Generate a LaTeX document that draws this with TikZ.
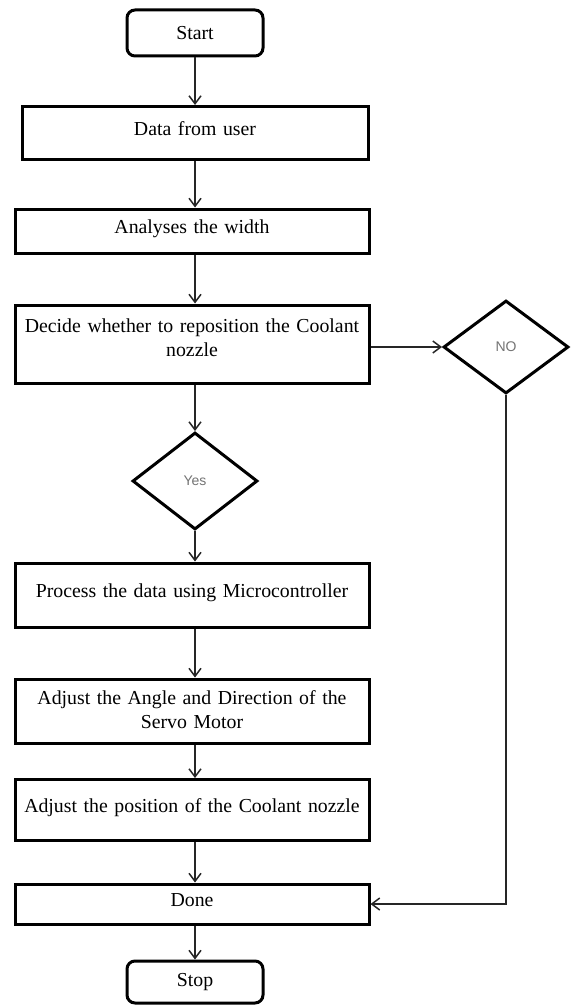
\documentclass[tikz,border=0pt]{standalone}
\usepackage{fontspec}
\setmainfont{Liberation Serif}
\newfontfamily\choicefont{Liberation Sans}
\usepackage{tikz}
\usetikzlibrary{shapes.geometric, arrows.meta, positioning}

\tikzset{
    procbox/.style={draw, line width=1.5pt, minimum width=177pt, text width=176pt, inner xsep=0pt, align=center,
        font=\fontsize{9.9}{12.2}\selectfont, text height=7pt, text depth=5pt},
    twoline/.style={text depth=#1},
    termbox/.style={draw, line width=1.5pt, rounded corners=4pt, minimum width=68pt,
        font=\fontsize{9.9}{12.2}\selectfont},
    choice/.style={diamond, draw, line width=1.5pt, inner sep=0pt, minimum width=62.5pt,
        text=black!55, font=\choicefont\fontsize{7}{8}\selectfont},
    flow/.style={-{Straight Barb[length=4pt, width=6pt]}, line width=0.75pt, draw=black!85}
}

\begin{document}
\begin{tikzpicture}[x=0.5pt, y=-0.5pt]
    \useasboundingbox (0,0) rectangle (576,1006);

    % --- main column ---
    \node[termbox, minimum height=23pt] (start) at (195,33) {Start};
    \node[procbox, minimum width=173pt, text width=172pt, minimum height=26.5pt] (data) at (195,133) {Data from user};
    \node[procbox, minimum height=22pt] (analyse) at (192,231) {Analyses the width};
    \node[procbox, twoline=19pt, minimum height=39pt] (decide) at (192,344) {Decide whether to reposition the Coolant\\ nozzle};

    % decisions
    \node[choice, minimum height=48.5pt] (yes) at (195,481) {Yes};
    \node[choice, minimum height=46.5pt] (no) at (506,347) {NO};

    \node[procbox, minimum height=32pt] (process) at (192,595) {Process the data using Microcontroller};
    \node[procbox, twoline=14pt, minimum height=32pt] (servo) at (192,711) {Adjust the Angle and Direction of the\\ Servo Motor};
    \node[procbox, minimum height=30.5pt] (nozzle) at (192,810) {Adjust the position of the Coolant nozzle};
    \node[procbox, minimum height=20pt] (done) at (192,904) {Done};
    \node[termbox, minimum height=21pt] (stop) at (195,982) {Stop};

    % --- arrows ---
    \draw[flow] (start) -- (start |- data.north);
    \draw[flow] (data) -- (data |- analyse.north);
    \draw[flow] (analyse.south -| start) -- (decide.north -| start);
    \draw[flow] (decide.south -| start) -- (yes.north);
    \draw[flow] (yes.south) -- (process.north -| yes);
    \draw[flow] (process.south -| start) -- (servo.north -| start);
    \draw[flow] (servo.south -| start) -- (nozzle.north -| start);
    \draw[flow] (nozzle.south -| start) -- (done.north -| start);
    \draw[flow] (done.south -| start) -- (stop);

    % NO branch
    \draw[flow] (decide.east |- no.west) -- (no.west);
    \draw[flow] (no.south) |- (done.east);

\end{tikzpicture}
\end{document}
